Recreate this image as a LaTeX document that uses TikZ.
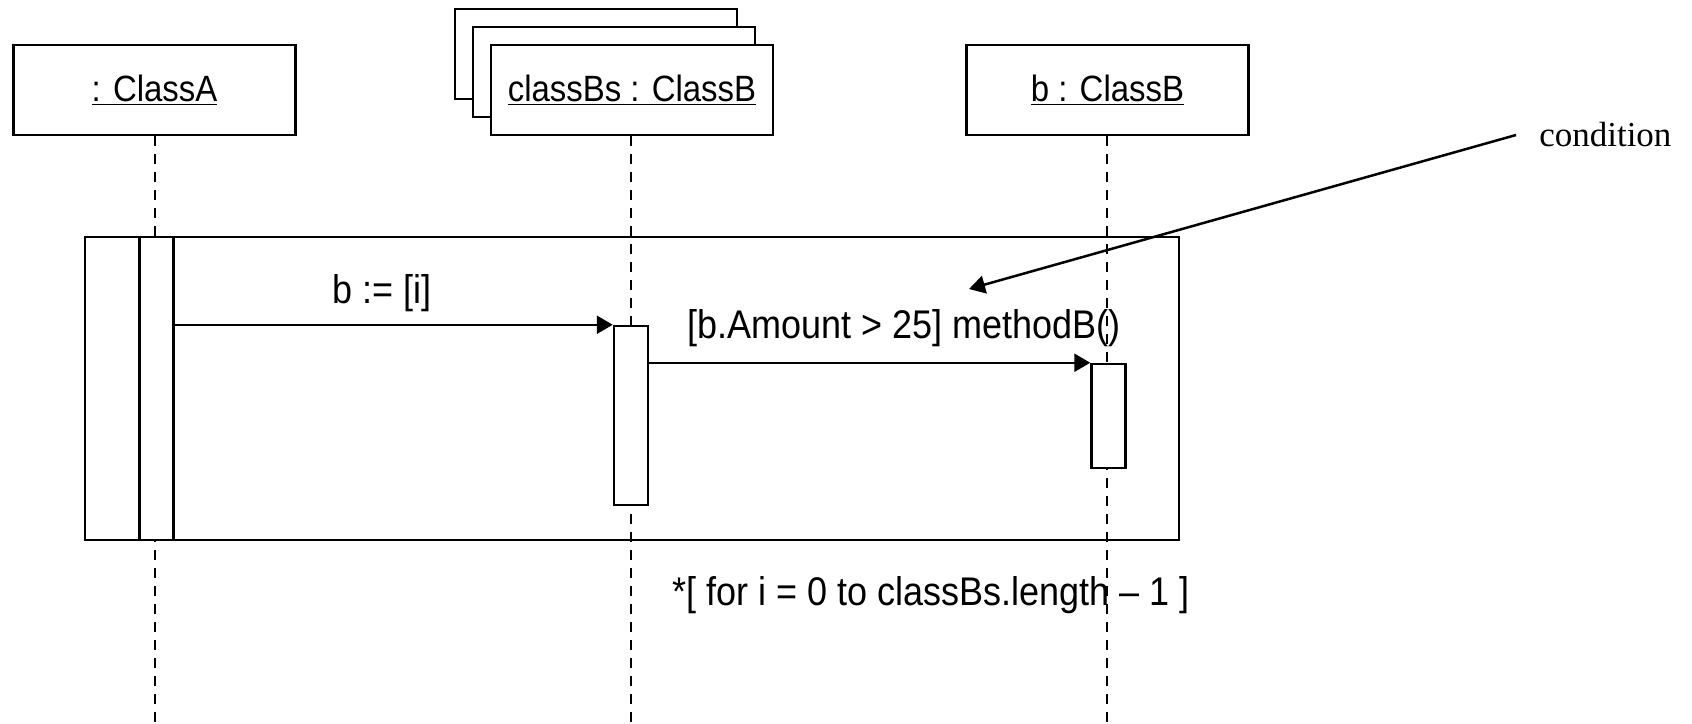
\documentclass[tikz,border=0pt]{standalone}
\usepackage{fontspec}
\setmainfont{Liberation Sans}[FakeStretch=0.9]
\newfontfamily\condfont{Liberation Serif}
\usetikzlibrary{arrows.meta}
\begin{document}
\begin{tikzpicture}[x=0.5pt,y=-0.5pt,line width=1.25pt,
  objbox/.style={draw,fill=white,minimum width=141pt,minimum height=45pt,inner sep=0pt,
    font=\fontsize{18.3}{20}\selectfont},
  backbox/.style={draw,fill=white,minimum width=141pt,minimum height=45pt,inner sep=0pt},
  lifeline/.style={dash pattern=on 5pt off 4pt},
  act/.style={draw,fill=white,minimum width=17pt,inner sep=0pt},
  frame/.style={draw,minimum width=547pt,minimum height=151.5pt,inner sep=0pt},
  msg/.style={-{Triangle[length=8pt,width=9pt]}},
  lbl/.style={inner sep=0pt,font=\fontsize{20}{22}\selectfont},
]
\useasboundingbox (0,0) rectangle (1692,723);
% object boxes
\node[backbox] (bs3) at (596,54) {};
\node[backbox] (bs2) at (614,72) {};
\node[objbox] (A) at (154.5,90) {\underline{: ClassA}};
\node[objbox] (Bs) at (632,90) {\underline{classBs : ClassB}};
\node[objbox] (b) at (1107.5,90) {\underline{b : ClassB}};
% lifeline ends
\coordinate (Aend) at (155,723);
\coordinate (Bsend) at (631,723);
\coordinate (bend) at (1107,723);
% loop frame
\node[frame] (loop) at (632,388.5) {};
% lifelines
\draw[lifeline] (A.south -| Aend) -- (Aend);
\draw[lifeline] (Bs.south -| Bsend) -- (Bsend);
\draw[lifeline] (b.south -| bend) -- (bend);
% activations
\node[act,minimum height=151.5pt] (actA) at (156.5,388.5) {};
\node[act,minimum height=89.5pt] (actBs) at (631,415.5) {};
\node[act,minimum height=52pt] (actb) at (1108.5,416) {};
% messages
\draw[msg] (actA.east |- actBs.north west) -- (actBs.north west);
\node[lbl] (m1) at (382,293) {b := [i]};
\draw[msg] (actBs.east |- actb.north west) -- (actb.north west);
\node[lbl] (m2) at (904,328) {[b.Amount > 25] methodB()};
% loop condition
\node[lbl,anchor=west] (lc) at (671,595) {*[ for i = 0 to classBs.length – 1 ]};
% condition note
\node[anchor=west,inner sep=0pt,inner xsep=11pt,font=\condfont\fontsize{17.5}{19}\selectfont] (cond) at (1516,135) {condition};
\coordinate (condtip) at (969,289);
\draw[msg] (cond.west) -- (condtip);
\end{tikzpicture}
\end{document}
